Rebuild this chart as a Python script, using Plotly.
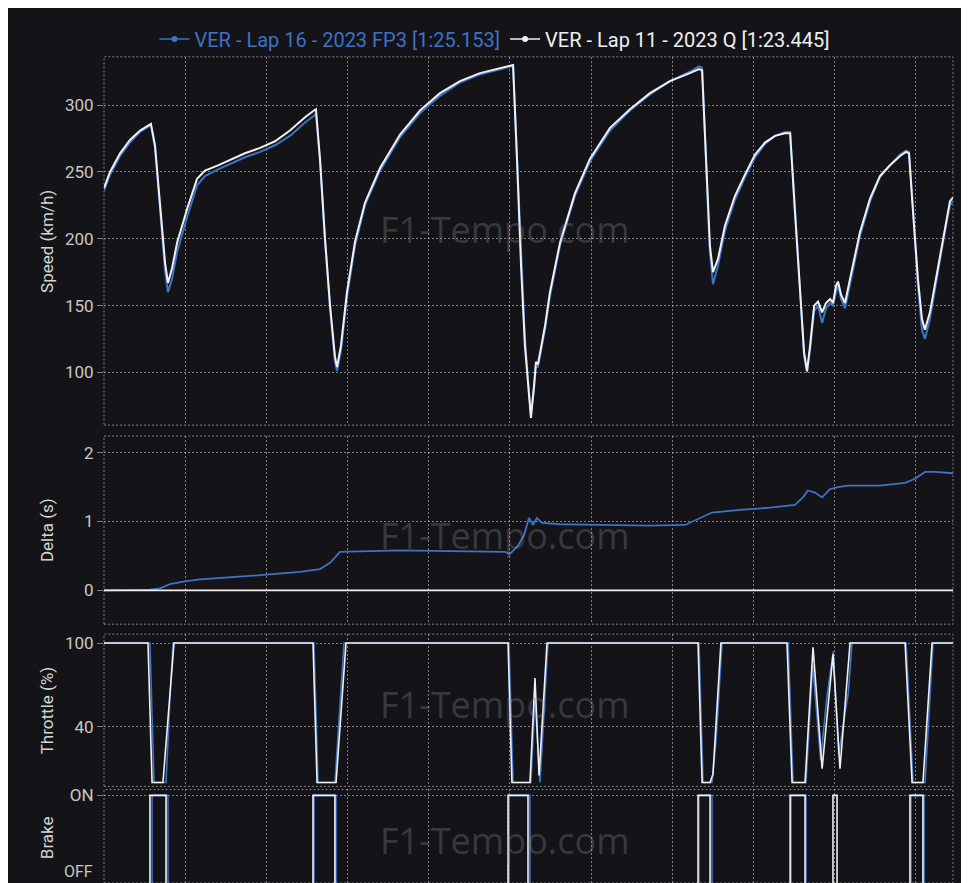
import plotly.graph_objects as go
from plotly.subplots import make_subplots

# ---------------- data (distance in metres) ----------------
legend_fp3 = "VER - Lap 16 - 2023 FP3 [1:25.153]"
legend_q = "VER - Lap 11 - 2023 Q [1:23.445]"

speed_dist = [0, 37, 99, 160, 222, 271, 289, 314, 345, 376, 394, 419, 450, 511, 573, 622, 702, 776, 868, 961,
              1053, 1145, 1238, 1293, 1305, 1330, 1361, 1392, 1422, 1435, 1459, 1496, 1546, 1607, 1700, 1823, 1946,
              2069, 2192, 2315, 2439, 2506, 2519, 2543, 2568, 2592, 2617, 2629, 2648, 2660, 2672, 2685, 2716, 2746,
              2808, 2900, 2993, 3116, 3239, 3362, 3485, 3608, 3664, 3683, 3707, 3731, 3750, 3781, 3824, 3885, 3947,
              4009, 4070, 4132, 4193, 4225, 4255, 4286, 4311, 4329, 4348, 4373, 4397, 4422, 4446, 4471, 4489, 4508,
              4520, 4539, 4563, 4594, 4655, 4717, 4778, 4840, 4902, 4939, 4957, 4982, 5012, 5037, 5055, 5086, 5136,
              5179, 5209, 5228]
speed_q = [238, 250, 264, 274, 281, 285, 286, 270, 225, 182, 167, 178, 197, 222, 245, 251, 255, 259, 264, 268,
           273, 281, 291, 296, 297, 260, 200, 150, 112, 104, 120, 160, 198, 227, 253, 278, 296,
           309, 318, 324, 328, 330, 330, 260, 180, 120, 80, 66, 90, 108, 106, 115, 135, 160,
           197, 234, 260, 283, 297, 309, 318, 324, 327, 326, 260, 195, 175, 185, 210, 232, 248,
           263, 272, 277, 279, 279, 220, 160, 115, 101, 120, 150, 153, 145, 152, 155, 152, 165,
           168, 158, 152, 170, 205, 230, 247, 255, 262, 265, 264, 220, 170, 140, 132, 145, 180,
           210, 228, 231]
speed_fp3 = [236, 248, 262, 272, 280, 284, 285, 268, 222, 176, 160, 170, 190, 216, 240, 247, 252, 256, 261, 265,
             270, 277, 287, 292, 294, 258, 198, 148, 108, 101, 116, 156, 195, 225, 251, 276, 294,
             307, 317, 323, 327, 329, 329, 262, 185, 125, 85, 70, 88, 104, 104, 112, 132, 157,
             195, 232, 258, 281, 296, 308, 318, 325, 329, 328, 262, 190, 166, 180, 206, 229, 246,
             261, 271, 277, 280, 280, 222, 158, 112, 100, 117, 146, 150, 137, 148, 152, 150, 160,
             165, 155, 148, 166, 202, 228, 246, 255, 263, 266, 265, 222, 165, 132, 125, 140, 176,
             206, 225, 228]

delta_dist = [0, 222, 283, 345, 406, 499, 591, 899, 1207, 1330, 1392, 1453, 1576, 1823, 2131, 2469, 2500, 2549,
              2586, 2617, 2642, 2666, 2697, 2808, 3054, 3362, 3578, 3670, 3744, 3916, 4101, 4255, 4304, 4335,
              4378, 4422, 4471, 4520, 4582, 4778, 4933, 4994, 5056, 5117, 5228]
delta_fp3 = [0, 0, 0.01, 0.03, 0.09, 0.13, 0.16, 0.21, 0.27, 0.31, 0.40, 0.56, 0.57, 0.58, 0.57, 0.56, 0.53, 0.65,
             0.80, 1.05, 0.95, 1.05, 0.98, 0.96, 0.95, 0.94, 0.95, 1.05, 1.13, 1.17, 1.20, 1.24, 1.35, 1.45,
             1.42, 1.35, 1.47, 1.50, 1.52, 1.52, 1.56, 1.62, 1.72, 1.72, 1.70]
delta_q_dist = [0, 5228]
delta_q = [0, 0]

throttle_dist_q = [0, 271, 296, 363, 431, 1287, 1312, 1429, 1490, 2488, 2512, 2623, 2654, 2679, 2728,
                   3658, 3683, 3732, 3750, 3799, 4206, 4237, 4317, 4366, 4422, 4459, 4489, 4532, 4594,
                   4933, 4976, 5043, 5099, 5228]
throttle_q = [100, 100, 0, 0, 100, 100, 0, 0, 100, 100, 0, 0, 75, 5, 100,
              100, 0, 0, 6, 100, 100, 0, 0, 97, 10, 53, 92, 10, 100,
              100, 0, 0, 100, 100]
throttle_dist_fp3 = [0, 283, 308, 382, 406, 425, 1293, 1318, 1422, 1478, 2494, 2519, 2629, 2654, 2685, 2734,
                     3664, 3689, 3744, 3769, 3806, 4213, 4243, 4323, 4364, 4413, 4450, 4491, 4524, 4583, 4606,
                     4939, 4982, 5056, 5105, 5228]
throttle_fp3 = [100, 100, 0, 0, 60, 100, 100, 0, 0, 100, 100, 0, 0, 60, 0, 100,
                100, 0, 0, 30, 100, 100, 0, 0, 84, 16, 60, 94, 20, 64, 100,
                100, 0, 0, 100, 100]

brake_dist_q = [0, 283, 382, 1287, 1422, 2488, 2611, 3658, 3732, 4225, 4317, 4489, 4514, 4963, 5043, 5228]
brake_q = [0, 1, 0, 1, 0, 1, 0, 1, 0, 1, 0, 1, 0, 1, 0, 0]
brake_dist_fp3 = [0, 296, 394, 1293, 1429, 2494, 2623, 3664, 3744, 4231, 4323, 4969, 5050, 5228]
brake_fp3 = [0, 1, 0, 1, 0, 1, 0, 1, 0, 1, 0, 1, 0, 0]

speed_ticks = [100, 150, 200, 250, 300]
delta_ticks = [0, 1, 2]
throttle_ticks = [40, 100]
brake_ticks = [1]
brake_tick_text = ["ON"]
brake_off_text = "OFF"
panel_titles = ["Speed (km/h)", "Delta (s)", "Throttle (%)", "Brake"]
watermark = "F1-Tempo.com"

assert len(speed_dist) == len(speed_q) == len(speed_fp3)
assert len(delta_dist) == len(delta_fp3)
assert len(throttle_dist_q) == len(throttle_q)
assert len(throttle_dist_fp3) == len(throttle_fp3)
assert len(brake_dist_q) == len(brake_q)
assert len(brake_dist_fp3) == len(brake_fp3)

# ---------------- style ----------------
BG = "#141418"
BLUE = "#3d72c6"
WHITE = "#f0f0f0"
GRID = "rgba(200,200,200,0.6)"
TICKC = "#c8c8c8"
FONT = "Roboto"
W, H = 961, 875
ML, MR = 96, 16
PW = W - ML - MR  # plot-area width in px
DOTS = "2px,2px"

fig = make_subplots(rows=4, cols=1, shared_xaxes=True)

pairs = [
    (speed_dist, speed_fp3, speed_dist, speed_q, 1, "linear", 2),
    (delta_dist, delta_fp3, delta_q_dist, delta_q, 2, "linear", 1.8),
    (throttle_dist_fp3, throttle_fp3, throttle_dist_q, throttle_q, 3, "linear", 1.6),
    (brake_dist_fp3, brake_fp3, brake_dist_q, brake_q, 4, "hv", 1.6),
]
for xb, yb, xw, yw, row, shape, lw in pairs:
    fig.add_trace(go.Scatter(x=xb, y=yb, mode="lines", line=dict(color=BLUE, width=lw, shape=shape),
                             showlegend=False, hoverinfo="skip"), row=row, col=1)
    fig.add_trace(go.Scatter(x=xw, y=yw, mode="lines", line=dict(color=WHITE, width=lw, shape=shape),
                             showlegend=False, hoverinfo="skip"), row=row, col=1)

# legend entries
fig.add_trace(go.Scatter(x=[None], y=[None], mode="lines+markers",
                         line=dict(color=BLUE, width=1.5), marker=dict(color=BLUE, size=6, symbol="circle"),
                         name=f"<span style='color:{BLUE}'>{legend_fp3}</span>"), row=1, col=1)
fig.add_trace(go.Scatter(x=[None], y=[None], mode="lines+markers",
                         line=dict(color=WHITE, width=1.5), marker=dict(color=WHITE, size=6, symbol="circle"),
                         name=f"<span style='color:{WHITE}'>{legend_q}</span>"), row=1, col=1)

# panel geometry (pixel rows in the figure, top -> bottom)
panels = [(45, 415), (426, 615), (625, 778), (781, 875)]
domains = [[1 - b / H, 1 - t / H] for t, b in panels]
yranges = [[60.6, 336.2], [-0.49, 2.24], [-2.8, 106.4], [0.022, 1.0667]]
ytickvals = [speed_ticks, delta_ticks, throttle_ticks, brake_ticks]

for i in range(4):
    ax = "yaxis" if i == 0 else f"yaxis{i+1}"
    xa = "xaxis" if i == 0 else f"xaxis{i+1}"
    yax = dict(domain=domains[i], range=yranges[i], tickmode="array", tickvals=ytickvals[i],
               showgrid=True, gridcolor=GRID, griddash=DOTS, gridwidth=1, zeroline=False,
               showline=False, ticks="outside", ticklen=6, tickcolor=GRID,
               tickfont=dict(family=FONT, size=17, color=TICKC), fixedrange=True)
    if i == 3:
        yax["ticktext"] = brake_tick_text
    fig.layout[ax].update(yax)
    fig.layout[xa].update(dict(range=[0, 5228], tick0=0, dtick=500, showgrid=True, gridcolor=GRID,
                               griddash=DOTS, gridwidth=1, zeroline=False, showline=False,
                               showticklabels=False, ticks=""))

shapes = []
annotations = []
wm_y = [0.53, 0.47, 0.54, 0.45]
for i, (t, b) in enumerate(panels):
    xr = "x" if i == 0 else f"x{i+1}"
    yr = "y" if i == 0 else f"y{i+1}"
    shapes.append(dict(type="rect", xref=f"{xr} domain", yref=f"{yr} domain", x0=0, x1=1, y0=0, y1=1,
                       line=dict(color=GRID, width=1, dash=DOTS), layer="below"))
    annotations.append(dict(text=watermark, xref=f"{xr} domain", yref=f"{yr} domain", x=0.472, y=wm_y[i],
                            showarrow=False, font=dict(family="Open Sans", size=36,
                                                       color="rgba(150,150,160,0.28)")))
    cy = 1 - ((t + b) / 2) / H
    if i == 3:
        cy = 1 - 829 / H
    annotations.append(dict(text=panel_titles[i], xref="paper", yref="paper", x=(39 - ML) / PW, y=cy,
                            textangle=-90, showarrow=False, xanchor="center", yanchor="middle",
                            font=dict(family=FONT, size=17, color="#d4d4d4")))
# OFF label of the brake axis, kept just inside the bottom edge
annotations.append(dict(text=brake_off_text, xref="paper", yref="paper", x=-9 / PW, y=0.0, xanchor="right",
                        yanchor="bottom", showarrow=False, font=dict(family=FONT, size=16, color=TICKC)))

fig.update_layout(
    width=W, height=H,
    margin=dict(l=ML, r=MR, t=0, b=0),
    paper_bgcolor=BG, plot_bgcolor=BG,
    font=dict(family=FONT, color=WHITE),
    shapes=shapes, annotations=annotations,
    showlegend=True,
    legend=dict(orientation="h", x=(487 - ML) / PW, xanchor="center", y=1 - 27 / H, yanchor="middle",
                font=dict(family=FONT, size=20), bgcolor="rgba(0,0,0,0)", itemwidth=30,
                itemclick=False, traceorder="normal"),
    hovermode=False,
)

fig.write_html("out.html")
